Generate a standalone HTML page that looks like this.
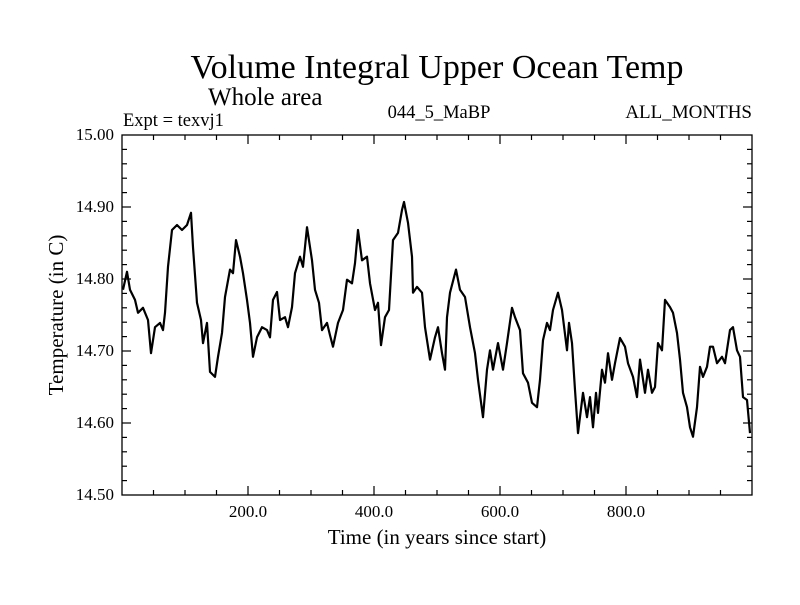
<!DOCTYPE html>
<html><head><meta charset="utf-8"><style>
body{margin:0;background:#fff;}
svg text{font-family:"Liberation Serif",serif;fill:#000;}
</style></head><body>
<svg id="chart" width="800" height="600" viewBox="0 0 800 600" xmlns="http://www.w3.org/2000/svg">
<rect width="800" height="600" fill="#fff"/>
<text x="437" y="78" font-size="34" text-anchor="middle">Volume Integral Upper Ocean Temp</text>
<text x="208" y="105" font-size="25">Whole area</text>
<text x="123" y="126" font-size="18.5">Expt = texvj1</text>
<text x="439" y="118" font-size="18.5" text-anchor="middle">044_5_MaBP</text>
<text x="752" y="118" font-size="19" text-anchor="end">ALL_MONTHS</text>
<text x="437" y="544" font-size="21" text-anchor="middle">Time (in years since start)</text>
<text x="0" y="0" font-size="21" text-anchor="middle" transform="translate(63,315) rotate(-90)">Temperature (in C)</text>
<g id="axes"></g>
<path id="series" fill="none" stroke="#000" stroke-width="2.2" stroke-linejoin="round"/>
<rect x="122" y="135" width="630" height="360" fill="none" stroke="#000" stroke-width="1.3"/>
</svg>
<script>
const years=[1.6,7.9,12.7,20.6,25.4,33.3,41.3,46.0,52.4,60.3,65.1,68.3,73.0,79.4,87.3,95.2,103.2,109.5,112.7,119.0,125.4,128.6,134.9,139.7,147.6,152.4,158.7,163.5,171.4,176.2,181.0,187.3,192.1,198.4,203.2,207.9,214.3,222.2,230.2,234.9,239.7,246.0,250.8,258.7,263.5,269.8,274.6,282.5,287.3,293.7,301.6,306.3,312.7,317.5,325.4,330.2,334.9,342.9,350.8,357.1,365.1,369.8,374.6,381.0,388.9,393.7,401.6,406.3,411.1,417.5,423.8,430.2,438.1,444.4,447.6,454.0,460.3,461.9,468.3,476.2,481.0,488.9,496.8,501.6,507.9,512.7,515.9,520.6,530.2,536.5,544.4,552.4,560.3,565.1,573.0,579.4,584.1,588.9,596.8,604.8,611.1,619.0,623.8,631.7,636.5,644.4,650.8,658.7,663.5,668.3,674.6,679.4,684.1,692.1,698.4,706.3,709.5,714.3,719.0,723.8,731.7,738.1,742.9,747.6,752.4,755.6,761.9,766.7,771.4,777.8,782.5,790.5,798.4,803.2,811.1,817.5,822.2,830.2,834.9,841.3,846.0,850.8,857.1,861.9,869.8,874.6,881.0,885.7,890.5,896.8,901.6,906.3,912.7,917.5,922.2,928.6,933.3,938.1,944.4,952.4,957.1,965.1,969.8,976.2,981.0,985.7,992.1,996.8];
const temps=[14.785,14.810,14.785,14.771,14.753,14.760,14.743,14.697,14.733,14.739,14.729,14.753,14.817,14.868,14.875,14.868,14.875,14.892,14.844,14.767,14.743,14.711,14.739,14.671,14.664,14.692,14.725,14.775,14.813,14.808,14.854,14.831,14.808,14.771,14.739,14.692,14.719,14.733,14.729,14.719,14.771,14.782,14.743,14.747,14.733,14.761,14.808,14.831,14.817,14.872,14.826,14.785,14.767,14.729,14.739,14.722,14.706,14.739,14.757,14.799,14.794,14.822,14.868,14.826,14.831,14.794,14.757,14.767,14.708,14.747,14.757,14.854,14.864,14.896,14.907,14.878,14.831,14.781,14.789,14.781,14.733,14.688,14.719,14.733,14.697,14.674,14.747,14.781,14.813,14.785,14.775,14.733,14.697,14.660,14.608,14.674,14.701,14.674,14.711,14.674,14.711,14.760,14.747,14.729,14.669,14.656,14.628,14.622,14.660,14.715,14.739,14.729,14.757,14.781,14.757,14.701,14.739,14.711,14.646,14.586,14.642,14.608,14.636,14.594,14.642,14.614,14.674,14.656,14.697,14.660,14.683,14.718,14.706,14.683,14.664,14.636,14.688,14.642,14.674,14.642,14.650,14.711,14.701,14.771,14.761,14.753,14.725,14.688,14.642,14.622,14.594,14.581,14.622,14.678,14.664,14.678,14.706,14.706,14.683,14.692,14.683,14.729,14.733,14.701,14.692,14.636,14.632,14.586];
const xTickValues=[200,400,600,800];
const xTickLabels=["200.0","400.0","600.0","800.0"];
const yTickValues=[14.5,14.6,14.7,14.8,14.9,15.0];
const yTickLabels=["14.50","14.60","14.70","14.80","14.90","15.00"];

const L=122,R=752,T=135,B=495,X0=0,X1=1000,Y0=14.5,Y1=15.0;
function sx(v){return L+(v-X0)/(X1-X0)*(R-L);}
function sy(v){return B-(v-Y0)/(Y1-Y0)*(B-T);}
const NS="http://www.w3.org/2000/svg";
const axes=document.getElementById('axes');
function line(x1,y1,x2,y2,name){
  const l=document.createElementNS(NS,'line');
  l.setAttribute('x1',x1);l.setAttribute('y1',y1);l.setAttribute('x2',x2);l.setAttribute('y2',y2);
  l.setAttribute('stroke','#000');l.setAttribute('stroke-width','1.2');
  
  
  axes.appendChild(l);
}
function text(x,y,s,anchor,name){
  const t=document.createElementNS(NS,'text');
  t.setAttribute('x',x);t.setAttribute('y',y);t.setAttribute('font-size','17');t.setAttribute('text-anchor',anchor);
  t.textContent=s;
  
  
  axes.appendChild(t);
}
for(let v=50;v<1000;v+=50){
  const major=v%200===0;const len=major?9:5;const x=sx(v);
  line(x,B,x,B-len,'x-tick');
  line(x,T,x,T+len,'x-tick-top');
}
for(let i=1;i<25;i++){
  const v=Y0+i*0.02;const major=i%5===0;const len=major?9:5;const y=sy(v);
  line(L,y,L+len,y,'y-tick');
  line(R,y,R-len,y,'y-tick-right');
}
xTickValues.forEach((v,i)=>text(sx(v),B+22,xTickLabels[i],'middle','x-tick-label'));
yTickValues.forEach((v,i)=>text(L-8,sy(v)+5,yTickLabels[i],'end','y-tick-label'));
let d='';
years.forEach((yr,i)=>{d+=(i?'L':'M')+sx(yr).toFixed(1)+','+sy(temps[i]).toFixed(1);});
document.getElementById('series').setAttribute('d',d);
</script>
</body></html>
